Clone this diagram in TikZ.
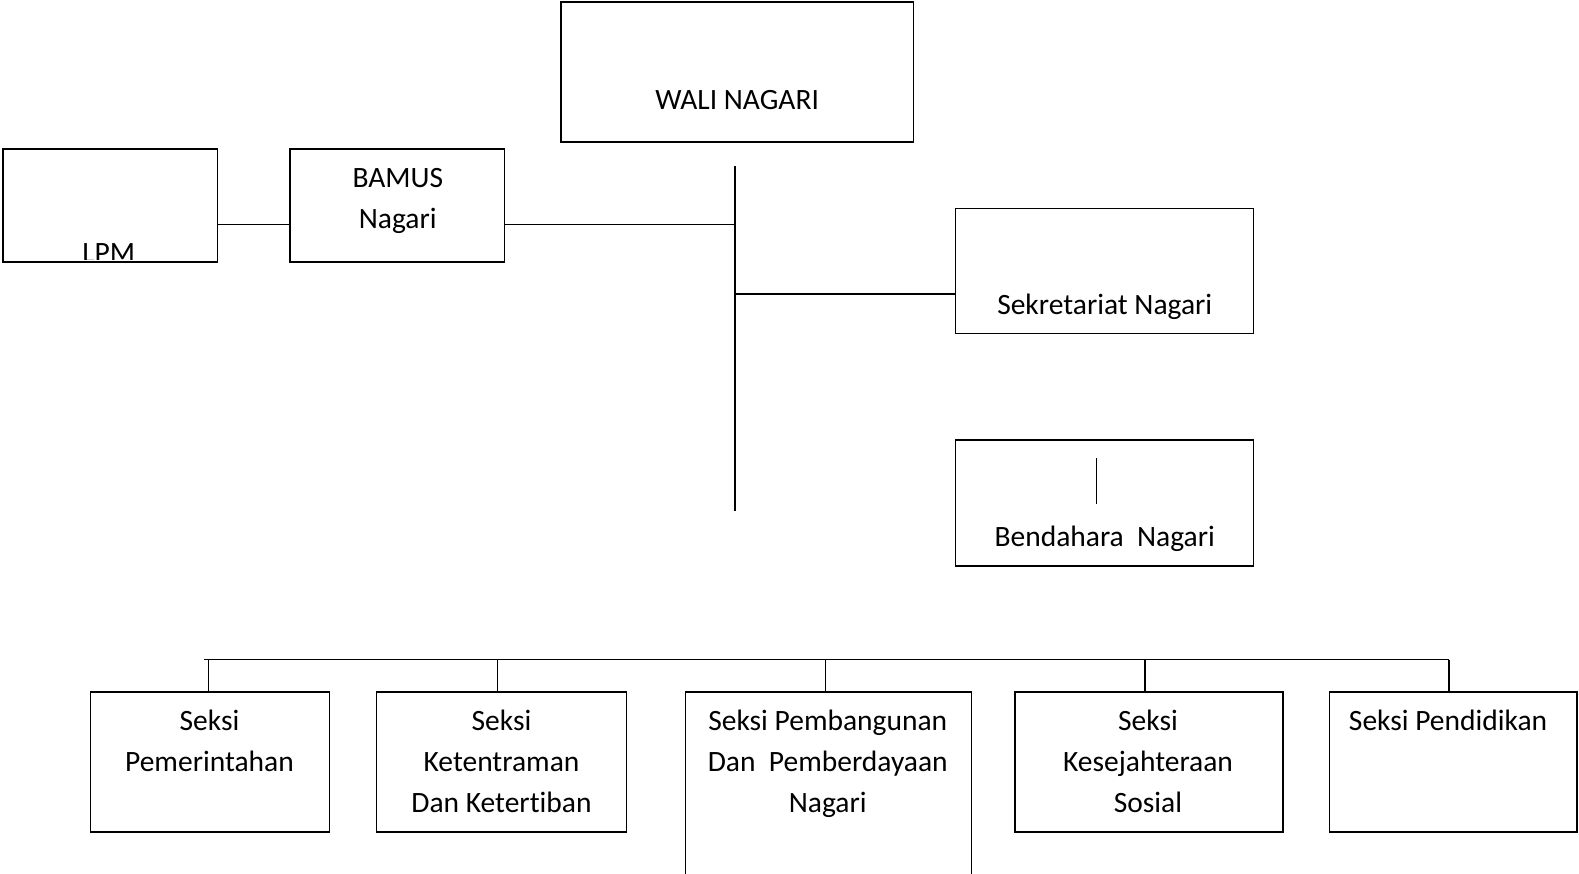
\documentclass[tikz,border=0pt]{standalone}
\usepackage{fontspec}
\setmainfont[Ligatures=NoCommon]{Carlito}
\begin{document}
\begin{tikzpicture}[x=1pt,y=-1pt,
  box/.style={draw, line width=1.4pt, inner sep=0pt, outer sep=0pt},
  lbl/.style={anchor=base, inner sep=0pt, font=\fontsize{29.3}{41}\selectfont, align=center},
  conn/.style={line width=1.4pt}]
\clip (0,0) rectangle (1568,867);
% boxes
\node[box, minimum width=350pt, minimum height=139pt] (wali) at (732,71.5) {};
\node[box, minimum width=213pt, minimum height=112pt] (lpm) at (109.5,204) {};
\node[box, minimum width=213pt, minimum height=112pt] (bamus) at (394.5,204) {};
\node[box, minimum width=296pt, minimum height=124pt] (sek) at (1097,269) {};
\node[box, minimum width=296pt, minimum height=125pt] (bend) at (1097,499.5) {};
\node[box, minimum width=237pt, minimum height=139pt] (b1) at (208.5,756.5) {};
\node[box, minimum width=248pt, minimum height=139pt] (b2) at (498,756.5) {};
\node[box, minimum width=284pt, minimum height=213pt] (b3) at (823,793.5) {};
\node[box, minimum width=266pt, minimum height=139pt] (b4) at (1141,756.5) {};
\node[box, minimum width=246pt, minimum height=139pt] (b5) at (1443,756.5) {};
% texts
\node[lbl] (twali) at (732,109) {WALI NAGARI};
\begin{scope}
\clip (4,149) rectangle (215,258);
\node[lbl] (tlpm) at (108,261) {LPM};
\end{scope}
\node[lbl] (tbamus1) at (395,186) {BAMUS};
\node[lbl] (tbamus2) at (395,227) {Nagari};
\node[lbl] (tsek) at (1097,312) {Sekretariat Nagari};
\node[lbl] (tbend) at (1097,543) {Bendahara\ \ Nagari};
\node[lbl] (t1a) at (208,725) {Seksi};
\node[lbl] (t1b) at (208,766) {Pemerintahan};
\node[lbl] (t2a) at (498,725) {Seksi};
\node[lbl] (t2b) at (498,766) {Ketentraman};
\node[lbl] (t2c) at (498,807) {Dan Ketertiban};
\node[lbl] (t3a) at (822,725) {Seksi Pembangunan};
\node[lbl] (t3b) at (822,766) {Dan\ \ Pemberdayaan};
\node[lbl] (t3c) at (822,807) {Nagari};
\node[lbl] (t4a) at (1140,725) {Seksi};
\node[lbl] (t4b) at (1140,766) {Kesejahteraan};
\node[lbl] (t4c) at (1140,807) {Sosial};
\node[lbl] (t5a) at (1438,725) {Seksi Pendidikan};
% coordinates
\coordinate (yb) at (0,223);
\coordinate (ys) at (0,292);
\coordinate (spinetop) at (730,165);
\coordinate (spinebot) at (730,507);
\coordinate (bt) at (1089,455);
\coordinate (bb) at (1089,500);
\coordinate (busL) at (203,655);
\coordinate (busR) at (1439,655);
\coordinate (d1) at (207,655);
\coordinate (d2) at (494,655);
\coordinate (d3) at (820,655);
\coordinate (d4) at (1137,655);
\coordinate (d5) at (1439,655);
% connectors
\draw[conn] (lpm.east |- yb) -- (bamus.west |- yb);
\draw[conn] (bamus.east |- yb) -- (spinetop |- yb);
\draw[conn] (spinetop) -- (spinebot);
\draw[conn] (spinetop |- ys) -- (sek.west |- ys);
\draw[conn] (bt) -- (bb);
\draw[conn] (busL) -- (busR);
\draw[conn] (d1) -- (d1 |- b1.north);
\draw[conn] (d2) -- (d2 |- b2.north);
\draw[conn] (d3) -- (d3 |- b3.north);
\draw[conn] (d4) -- (d4 |- b4.north);
\draw[conn] (d5) -- (d5 |- b5.north);
\end{tikzpicture}
\end{document}
